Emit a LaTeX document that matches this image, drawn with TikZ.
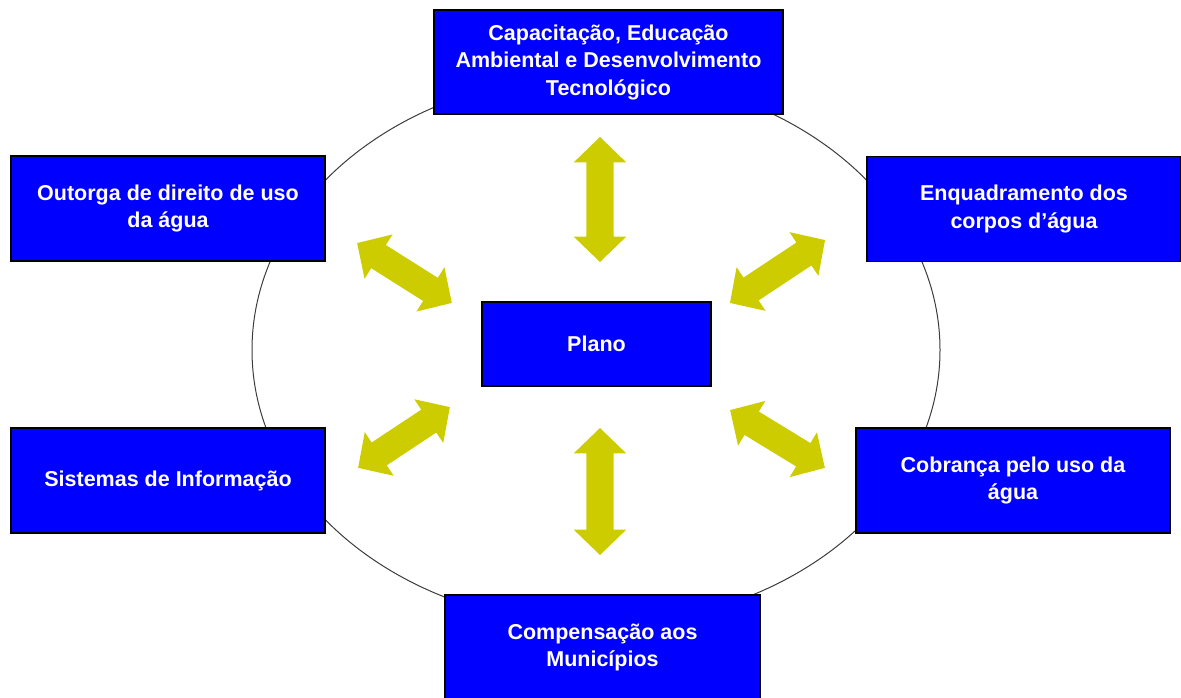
\documentclass[tikz,border=0pt]{standalone}
\usepackage{fontspec}
\setmainfont{Liberation Sans}
\usepackage{tikz}
\usetikzlibrary{shapes.arrows}
\definecolor{arrowyellow}{RGB}{204,204,0}
\definecolor{ringgray}{RGB}{60,60,60}
\tikzset{infobox/.style={draw=black,fill=blue,text=white,line width=1.3pt,
    align=center,inner sep=0pt,minimum width=314pt,minimum height=105pt,
    font=\bfseries\fontsize{21.5}{27.5}\selectfont}}
\tikzset{linkarrow/.style={double arrow,fill=arrowyellow,inner xsep=0pt,
    inner ysep=13.5pt,double arrow head extend=12.5pt,
    double arrow head indent=0pt,double arrow tip angle=92}}

\begin{document}
\begin{tikzpicture}[x=1pt,y=-1pt]
    \useasboundingbox (0,0) rectangle (1181,698);

    % ring behind the boxes
    \draw[ringgray,line width=1pt] (596,350) ellipse [x radius=344pt, y radius=275pt];

    \node[infobox] (plano) at (596.5,344) [minimum width=229pt,minimum height=84pt] {Plano};

    \node[infobox] (capacitacao) at (608.5,62) [minimum width=349pt,minimum height=104pt]
      {Capacita\c{c}\~ao, Educa\c{c}\~ao\\Ambiental e Desenvolvimento\\Tecnol\'ogico};
    \node[infobox] (outorga) at (168,208.5) {Outorga de direito de uso\\da \'agua};
    \node[infobox] (enquadramento) at (1024,209) {Enquadramento dos\\corpos d’\'agua};
    \node[infobox] (sistemas) at (168,480.5) {Sistemas de Informa\c{c}\~ao};
    \node[infobox] (cobranca) at (1013,480.5) {Cobran\c{c}a pelo uso da\\\'agua};
    \node[infobox] (compensacao) at (602.5,647.5) [minimum width=315pt]
      {Compensa\c{c}\~ao aos\\Munic\'ipios};

    % double arrows round the plan
    \node[linkarrow,minimum height=125pt,rotate=90] (a-top) at (600,199.5) {};
    \node[linkarrow,minimum height=127pt,rotate=90] (a-bottom) at (600,491.5) {};
    \node[linkarrow,minimum height=112pt,rotate=-32.3] (a-upleft) at (404.5,273) {};
    \node[linkarrow,minimum height=114pt,rotate=33.5] (a-upright) at (777.5,271.5) {};
    \node[linkarrow,minimum height=110pt,rotate=33.5] (a-lowleft) at (404,437.5) {};
    \node[linkarrow,minimum height=111pt,rotate=-31.4] (a-lowright) at (777.5,439) {};
\end{tikzpicture}
\end{document}
